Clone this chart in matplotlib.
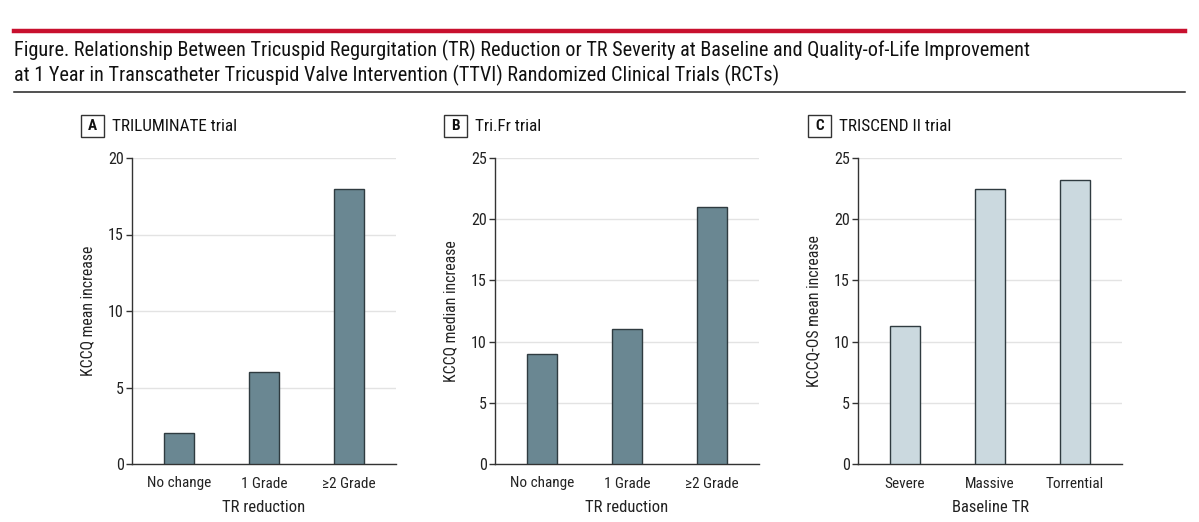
import matplotlib
matplotlib.use("Agg")
import matplotlib.pyplot as plt
from matplotlib import font_manager
from matplotlib.patches import Rectangle
from matplotlib.lines import Line2D

# data
panel_letters = ["A", "B", "C"]
panel_titles = ["TRILUMINATE trial", "Tri.Fr trial", "TRISCEND II trial"]
reduction_cats = ["No change", "1 Grade", "\u22652 Grade"]
baseline_cats = ["Severe", "Massive", "Torrential"]
triluminate_vals = [2, 6, 18]
trifr_vals = [9, 11, 21]
triscend_vals = [11.3, 22.5, 23.2]
ylabels = ["KCCQ mean increase", "KCCQ median increase", "KCCQ-OS mean increase"]
xlabels = ["TR reduction", "TR reduction", "Baseline TR"]
ymax = [20, 25, 25]

title_lines = [
    "Figure. Relationship Between Tricuspid Regurgitation (TR) Reduction or TR Severity at Baseline and Quality-of-Life Improvement",
    "at 1 Year in Transcatheter Tricuspid Valve Intervention (TTVI) Randomized Clinical Trials (RCTs)",
]

# pick a narrow-ish font if there is one
installed = {f.name for f in font_manager.fontManager.ttflist}
family = "DejaVu Sans"
for cand in ["Liberation Sans Narrow", "Roboto Condensed", "Open Sans", "Roboto"]:
    if cand in installed:
        family = cand
        break
plt.rcParams['font.family'] = [family, 'DejaVu Sans']

W, H = 1199, 522
fig = plt.figure(figsize=(W / 100, H / 100), dpi=100)

def fx(px):
    return px / W

def fy(py):
    return 1 - py / H

# header rules and title
fig.add_artist(Line2D([fx(14), fx(1185)], [fy(31), fy(31)], color="#c8102e", lw=3.2))
fig.add_artist(Line2D([fx(14), fx(1185)], [fy(92), fy(92)], color="#222222", lw=1.1))
fig.text(fx(14), fy(50), title_lines[0], fontsize=14.6, va="center", ha="left", color="#111111")
fig.text(fx(14), fy(75), title_lines[1], fontsize=14.6, va="center", ha="left", color="#111111")

dark = "#6a8792"
light = "#cbd9df"
edge = "#2f3b40"

series = [triluminate_vals, trifr_vals, triscend_vals]
cats = [reduction_cats, reduction_cats, baseline_cats]
colors = [dark, dark, light]
lefts = [132, 495, 858]
box_lefts = [81, 444, 808]

for i in range(3):
    ax = fig.add_axes([fx(lefts[i]), fy(464), fx(264), (464 - 158) / H])
    x = range(len(cats[i]))
    ax.bar(x, series[i], width=0.35, color=colors[i], edgecolor=edge, linewidth=1.0, zorder=3)
    ax.set_xlim(-0.553, 2.553)
    ax.set_ylim(0, ymax[i])
    ax.set_yticks(range(0, ymax[i] + 1, 5))
    ax.set_xticks(list(x))
    ax.set_xticklabels(cats[i])
    ax.yaxis.grid(True, color="#e3e3e3", lw=1.0, zorder=0)
    for s in ["top", "right"]:
        ax.spines[s].set_visible(False)
    ax.spines["left"].set_color("#333333")
    ax.spines["bottom"].set_color("#333333")
    ax.spines["left"].set_linewidth(1.0)
    ax.spines["bottom"].set_linewidth(1.0)
    ax.tick_params(axis="x", length=0, pad=9, labelsize=11, colors="#222222")
    ax.tick_params(axis="y", length=4, width=1.0, pad=2, labelsize=11.5, colors="#222222", color="#333333")
    ax.set_ylabel(ylabels[i], fontsize=11.3, color="#222222", labelpad=9)
    ax.set_xlabel(xlabels[i], fontsize=12, color="#222222", labelpad=7)

    # panel label box
    bx = box_lefts[i]
    fig.add_artist(Rectangle((fx(bx), fy(137)), fx(23), (137 - 115) / H,
                             facecolor="white", edgecolor="#333333", lw=1.0))
    fig.text(fx(bx + 11.5), fy(126.5), panel_letters[i], fontsize=11, fontweight="bold",
             ha="center", va="center", color="#111111")
    fig.text(fx(bx + 31), fy(126.5), panel_titles[i], fontsize=12.3, ha="left", va="center",
             color="#111111")

fig.savefig("out.png", dpi=100)
